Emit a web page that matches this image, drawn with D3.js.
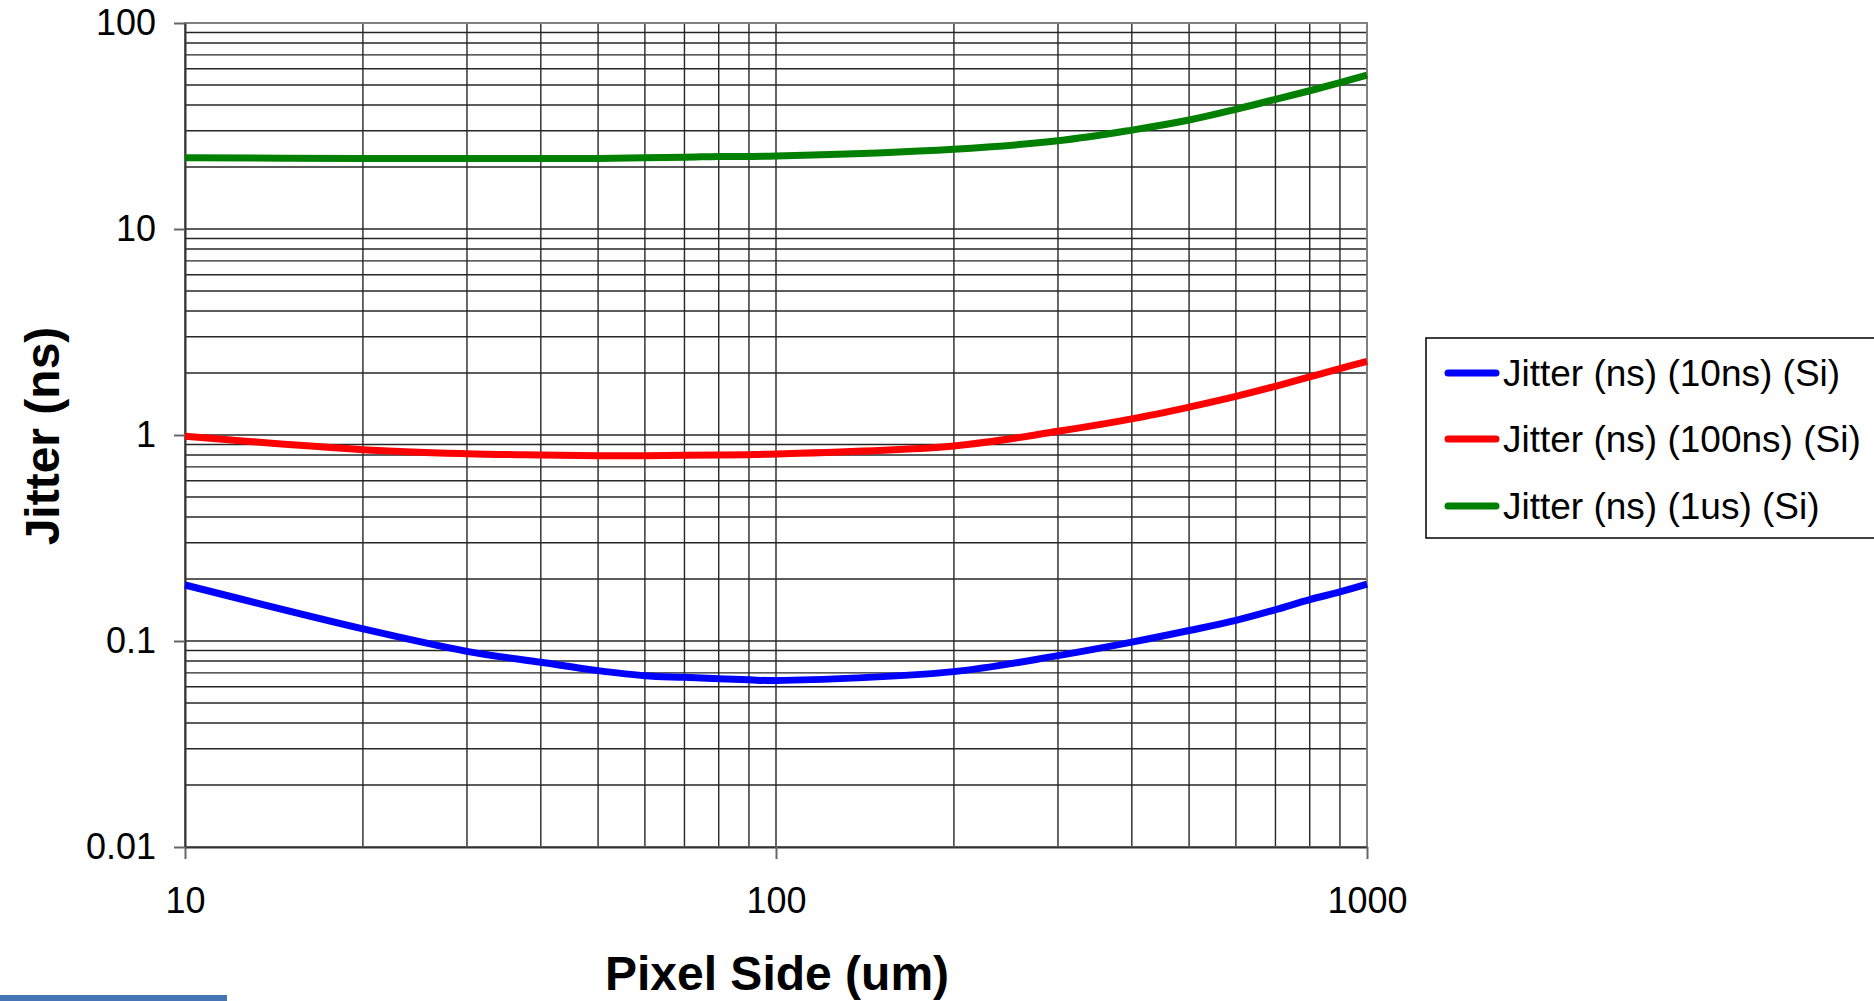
<!DOCTYPE html>
<html>
<head>
<meta charset="utf-8">
<script src="https://cdn.jsdelivr.net/npm/d3@7"></script>
<style>
  html, body { margin: 0; padding: 0; background: #fff; }
  svg { display: block; font-family: "Liberation Sans", Arial, sans-serif; }
</style>
</head>
<body>
<svg id="chart" width="1874" height="1001"></svg>
<script>
// ---- data ----
const pixelSide = [10, 20, 30, 40, 50, 60, 70, 80, 90, 100, 200, 300, 400, 500, 600, 700, 800, 900, 1000];
const jitter10ns = [0.187, 0.1146, 0.0891, 0.0788, 0.0718, 0.0678, 0.0666, 0.0655, 0.0648, 0.0643, 0.0710, 0.0849, 0.0987, 0.1124, 0.1259, 0.1418, 0.1588, 0.1731, 0.1888];
const jitter100ns = [0.987, 0.849, 0.812, 0.800, 0.794, 0.794, 0.797, 0.800, 0.803, 0.809, 0.885, 1.042, 1.197, 1.366, 1.539, 1.723, 1.914, 2.10, 2.28];
const jitter1us = [22.2, 22.0, 22.0, 22.0, 22.0, 22.2, 22.3, 22.5, 22.5, 22.6, 24.4, 26.8, 30.2, 33.8, 38.1, 42.6, 46.9, 51.3, 55.8];
const seriesNames = ["Jitter (ns) (10ns) (Si)", "Jitter (ns) (100ns) (Si)", "Jitter (ns) (1us) (Si)"];
const seriesColors = ["#0000ff", "#ff0000", "#008000"];
const xTickValues = [10, 100, 1000];
const xTickLabels = ["10", "100", "1000"];
const yTickValues = [0.01, 0.1, 1, 10, 100];
const yTickLabels = ["0.01", "0.1", "1", "10", "100"];
const xTitle = "Pixel Side (um)";
const yTitle = "Jitter (ns)";

// ---- layout ----
const L = 185, R = 1367, T = 23, B = 847;
const svg = d3.select("#chart");
const x = d3.scaleLog().domain([10, 1000]).range([L, R]);
const y = d3.scaleLog().domain([0.01, 100]).range([B, T]);

// minor grid values
const xGrid = [];
for (let d = 10; d < 1000; d *= 10) for (let k = 2; k <= 9; k++) xGrid.push(d * k);
xGrid.push(100);
const yGrid = [];
for (let d = 0.01; d < 100; d *= 10) for (let k = 1; k <= 9; k++) yGrid.push(+(d * k).toPrecision(3));

const grid = svg.append("g");
grid.selectAll("line.v").data(xGrid).enter().append("line")
  .attr("x1", d => x(d)).attr("x2", d => x(d)).attr("y1", T).attr("y2", B)
  .attr("stroke", "#262626").attr("stroke-width", 1.4);
grid.selectAll("line.h").data(yGrid.filter(v => v > 0.01)).enter().append("line")
  .attr("x1", L).attr("x2", R).attr("y1", d => y(d)).attr("y2", d => y(d))
  .attr("stroke", "#262626").attr("stroke-width", 1.4);

// plot border
svg.append("rect").attr("x", L).attr("y", T).attr("width", R - L).attr("height", B - T)
  .attr("fill", "none").attr("stroke", "#808080").attr("stroke-width", 2);

// axes
const yAxis = d3.axisLeft(y).tickValues(yTickValues)
  .tickFormat((d, i) => yTickLabels[i]).tickSizeInner(11).tickSizeOuter(0).tickPadding(18);
const gy = svg.append("g").attr("transform", `translate(${L},0)`).call(yAxis);
gy.select(".domain").attr("stroke", "#333").attr("stroke-width", 2);
gy.selectAll(".tick line").attr("stroke", "#666").attr("stroke-width", 2);
gy.selectAll(".tick text").attr("font-size", 36).attr("fill", "#000")
  .attr("font-family", "'Liberation Sans', Arial, sans-serif");

const xAxis = d3.axisBottom(x).tickValues(xTickValues)
  .tickFormat((d, i) => xTickLabels[i]).tickSizeInner(12).tickSizeOuter(0).tickPadding(28);
const gx = svg.append("g").attr("transform", `translate(0,${B})`).call(xAxis);
gx.select(".domain").attr("stroke", "#333").attr("stroke-width", 2);
gx.selectAll(".tick line").attr("stroke", "#666").attr("stroke-width", 2);
gx.selectAll(".tick text").attr("font-size", 36).attr("fill", "#000")
  .attr("font-family", "'Liberation Sans', Arial, sans-serif");

// series lines
const seriesData = [jitter10ns, jitter100ns, jitter1us];
const line = d3.line().x(d => x(d[0])).y(d => y(d[1])).curve(d3.curveCatmullRom.alpha(0.5));
const plot = svg.append("g");
seriesData.forEach((vals, i) => {
  plot.append("path")
    .datum(pixelSide.map((p, j) => [p, vals[j]]))
    .attr("d", line)
    .attr("fill", "none")
    .attr("stroke", seriesColors[i])
    .attr("stroke-width", 7)
    .attr("stroke-linejoin", "round");
});

// axis titles
svg.append("text").attr("x", 777).attr("y", 990).attr("text-anchor", "middle")
  .attr("font-size", 48).attr("font-weight", "bold").text(xTitle);
svg.append("text").attr("transform", "translate(59,436) rotate(-90)").attr("text-anchor", "middle")
  .attr("font-size", 48).attr("font-weight", "bold").text(yTitle);

// legend
const lg = svg.append("g");
lg.append("rect").attr("x", 1426).attr("y", 338).attr("width", 460).attr("height", 200)
  .attr("fill", "#fff").attr("stroke", "#000").attr("stroke-width", 1.5);
const legendY = [373, 439, 506];
seriesNames.forEach((name, i) => {
  lg.append("line").attr("x1", 1448).attr("x2", 1496).attr("y1", legendY[i]).attr("y2", legendY[i])
    .attr("stroke", seriesColors[i]).attr("stroke-width", 7).attr("stroke-linecap", "round");
  lg.append("text").attr("x", 1503).attr("y", legendY[i]).attr("dy", "0.36em")
    .attr("font-size", 37).attr("fill", "#000").text(name);
});

// decorative bar at bottom-left
svg.append("rect").attr("x", 0).attr("y", 995).attr("width", 227).attr("height", 6).attr("fill", "#4575b4");
</script>
</body>
</html>
